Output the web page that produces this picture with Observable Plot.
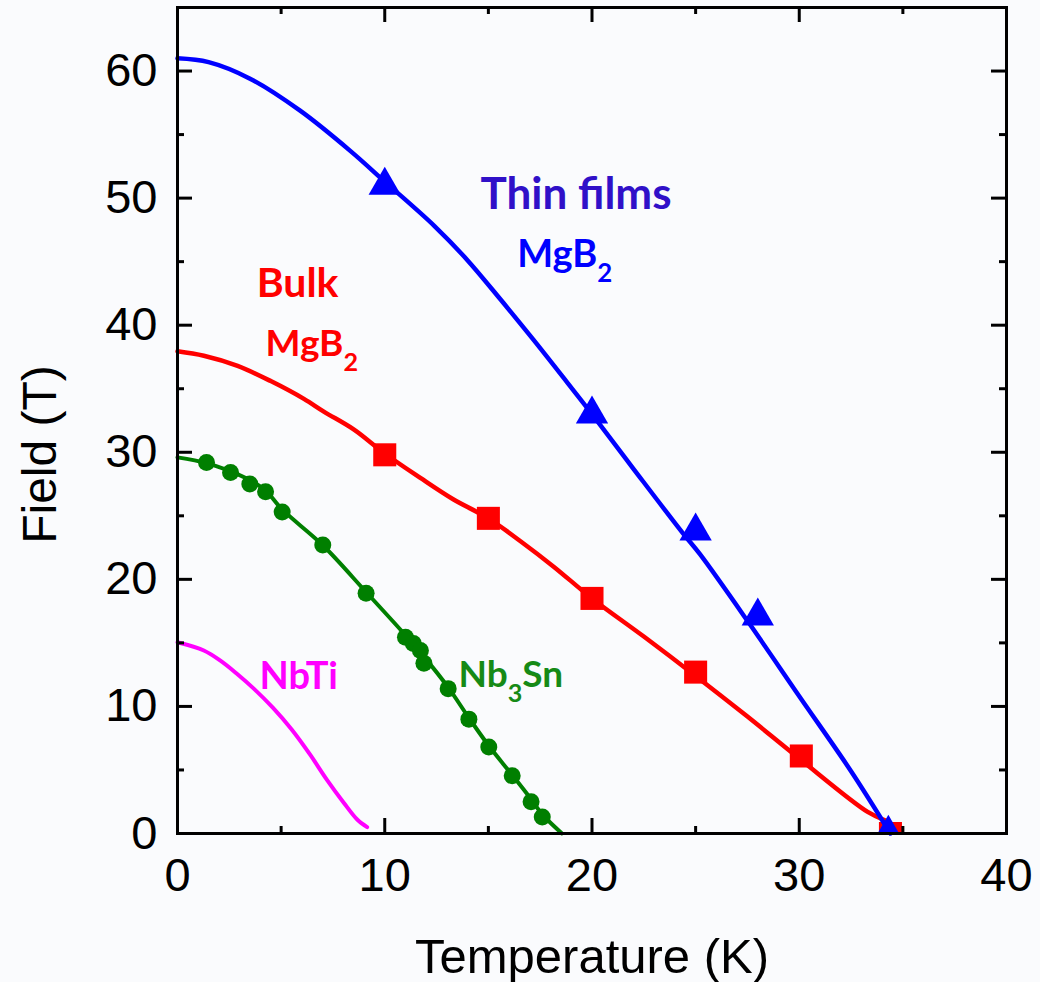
<!DOCTYPE html>
<html>
<head>
<meta charset="utf-8">
<script src="https://cdn.jsdelivr.net/npm/d3@7"></script>
<script src="https://cdn.jsdelivr.net/npm/@observablehq/plot@0.6"></script>
<style>
  html, body { margin: 0; padding: 0; background: #fafbfd; }
  svg { display: block; }
</style>
</head>
<body>
<div id="chart"></div>
<script>
// ---------- data (temperature K, field T) ----------
const nbtiT = [0, 1.27, 2.07, 2.88, 3.68, 4.6, 5.5, 6.4, 7.22, 8.03, 8.67, 9.15];
const nbtiF = [15.05, 14.4, 13.6, 12.55, 11.4, 9.9, 8.2, 6.2, 4.2, 2.4, 1.1, 0.5];

const nb3snLineT = [0, 1.4, 2.56, 3.5, 4.25, 5.05, 7.0, 9.1, 11.0, 11.9, 13.06, 14.06, 15.02, 16.15, 17.06, 17.6, 18.55];
const nb3snLineF = [29.6, 29.15, 28.5, 27.8, 27.0, 25.5, 22.7, 19.0, 15.6, 13.9, 11.5, 9.1, 6.9, 4.6, 2.7, 1.5, 0];
const nb3snPtsT = [1.4, 2.56, 3.49, 4.25, 5.05, 7.01, 9.1, 11.0, 11.38, 11.72, 11.89, 13.06, 14.06, 15.02, 16.15, 17.06, 17.6];
const nb3snPtsF = [29.2, 28.4, 27.5, 26.9, 25.3, 22.7, 18.9, 15.45, 14.95, 14.4, 13.4, 11.4, 9.0, 6.8, 4.55, 2.5, 1.3];

const bulkLineT = [0, 1.27, 2.9, 4.5, 6.1, 7.06, 8.5, 10, 11.7, 13.3, 15, 16.55, 18.15, 20, 22.5, 25, 27.5, 30, 33.3, 34.2];
const bulkLineF = [37.95, 37.6, 36.8, 35.6, 34.2, 33.2, 31.8, 29.9, 28.0, 26.3, 24.8, 23.0, 21.0, 18.5, 15.5, 12.4, 9.2, 5.9, 1.7, 1.0];
const bulkPtsT = [10, 15, 20, 25, 30.1, 34.4];
const bulkPtsF = [29.8, 24.8, 18.5, 12.7, 6.1, 0];

const filmLineT = [0, 1.5, 3.5, 5.9, 8.35, 10, 12.4, 14, 15.6, 17.2, 18.8, 20, 22, 24.4, 25.2, 27.6, 30, 32.5, 34.4];
const filmLineF = [61.0, 60.7, 59.4, 56.9, 53.7, 51.3, 47.8, 45.1, 42.0, 38.8, 35.5, 33.0, 28.7, 23.6, 22.0, 16.5, 10.8, 4.9, 0];
const filmPtsT = [10, 20, 25, 28, 34.3];
const filmPtsF = [51.0, 33.0, 23.8, 17.1, 0];

const xMajor = [0, 10, 20, 30, 40];
const xMinor = [5, 15, 25, 35];
const yMajor = [0, 10, 20, 30, 40, 50, 60];
const yMinor = [5, 15, 25, 35, 45, 55];

const xTitle = "Temperature (K)";
const yTitle = "Field (T)";

// annotation texts and their anchor (T, F) in data units
const noteText = ["Thin films", "MgB_2", "Bulk", "MgB_2", "NbTi", "Nb_3Sn"];
const noteT = [14.62, 16.39, 3.82, 4.25, 3.96, 13.56];
const noteF = [49.18, 44.56, 42.2, 37.6, 11.4, 11.5];

// ---------- build tables ----------
const rows = (T, F) => T.map((t, i) => ({t, f: F[i]}));
const nbti = rows(nbtiT, nbtiF);
const nb3snLine = rows(nb3snLineT, nb3snLineF);
const nb3snPts = rows(nb3snPtsT, nb3snPtsF);
const bulkLine = rows(bulkLineT, bulkLineF);
const bulkPts = rows(bulkPtsT, bulkPtsF);
const filmLine = rows(filmLineT, filmLineF);
const filmPts = rows(filmPtsT, filmPtsF);
const notes = noteText.map((text, i) => ({text, t: noteT[i], f: noteF[i]}));

// ---------- layout ----------
const W = 1040, H = 982;
const mL = 177, mR = 34, mT = 7, mB = 149;
const fw = W - mL - mR, fh = H - mT - mB;
const major = 15, minor = 7;
const tickStyle = {stroke: "black", strokeWidth: 3};
const noteFont = "Lato, 'Open Sans', sans-serif";

const note = (i, color, size) => Plot.text([notes[i]], {
  x: "t", y: "f", text: "text", fill: color, fontSize: size, fontWeight: 700,
  fontFamily: noteFont, textAnchor: "start", lineAnchor: "bottom"
});

const chart = Plot.plot({
  width: W, height: H,
  marginLeft: mL, marginRight: mR, marginTop: mT, marginBottom: mB,
  style: {background: "#fafbfd", fontFamily: "'Liberation Sans', Arial, sans-serif", color: "black", overflow: "visible"},
  x: {domain: [0, 40], label: null},
  y: {domain: [0, 65], label: null},
  marks: [
    Plot.line(nbti, {x: "t", y: "f", stroke: "#ff00ff", strokeWidth: 4, curve: "catmull-rom"}),
    Plot.line(nb3snLine, {x: "t", y: "f", stroke: "#007f00", strokeWidth: 4, curve: "catmull-rom"}),
    Plot.dot(nb3snPts, {x: "t", y: "f", r: 8.5, fill: "#007f00", stroke: "none"}),
    Plot.line(bulkLine, {x: "t", y: "f", stroke: "#ff0000", strokeWidth: 4.5, curve: "catmull-rom"}),
    Plot.dot(bulkPts, {x: "t", y: "f", symbol: "square", r: 13, fill: "#ff0000", stroke: "none", clip: true}),
    Plot.line(filmLine, {x: "t", y: "f", stroke: "#0000ff", strokeWidth: 4.5, curve: "catmull-rom"}),
    Plot.dot(filmPts, {x: "t", y: "f", symbol: "triangle", r: 12, fill: "#0000ff", stroke: "none", clip: true}),
    Plot.frame({stroke: "black", strokeWidth: 3}),
    Plot.tickX(xMajor, {x: d => d, insetTop: fh - major, ...tickStyle}),
    Plot.tickX(xMajor, {x: d => d, insetBottom: fh - major, ...tickStyle}),
    Plot.tickX(xMinor, {x: d => d, insetTop: fh - minor, ...tickStyle}),
    Plot.tickX(xMinor, {x: d => d, insetBottom: fh - minor, ...tickStyle}),
    Plot.tickY(yMajor, {y: d => d, insetRight: fw - major, ...tickStyle}),
    Plot.tickY(yMajor, {y: d => d, insetLeft: fw - major, ...tickStyle}),
    Plot.tickY(yMinor, {y: d => d, insetRight: fw - minor, ...tickStyle}),
    Plot.tickY(yMinor, {y: d => d, insetLeft: fw - minor, ...tickStyle}),
    Plot.axisX(xMajor, {tickSize: 0, tickPadding: 24, fontSize: 47, label: null}),
    Plot.axisY(yMajor, {tickSize: 0, tickPadding: 20, fontSize: 47, label: null}),
    Plot.text([xTitle], {frameAnchor: "bottom", dy: 139, lineAnchor: "bottom", textAnchor: "middle", fontSize: 49}),
    Plot.text([yTitle], {frameAnchor: "left", rotate: -90, dx: -122, dy: 34, lineAnchor: "bottom", textAnchor: "middle", fontSize: 48}),
    note(0, "#3010c8", 44),
    note(1, "#0000ff", 38),
    note(2, "#ff0000", 41),
    note(3, "#ff0000", 37),
    note(4, "#ff00ff", 38),
    note(5, "#168a16", 37)
  ]
});

// subscripts: "MgB_2" -> MgB with lowered, smaller 2
const ns = "http://www.w3.org/2000/svg";
chart.querySelectorAll("text").forEach(el => {
  const s = el.textContent;
  const m = s.match(/^(.*?)_(\d)(.*)$/);
  if (!m) return;
  el.textContent = "";
  const a = document.createElementNS(ns, "tspan");
  a.textContent = m[1];
  const b = document.createElementNS(ns, "tspan");
  b.textContent = m[2];
  b.setAttribute("font-size", "0.68em");
  b.setAttribute("dy", "15");
  el.append(a, b);
  if (m[3]) {
    const c = document.createElementNS(ns, "tspan");
    c.textContent = m[3];
    c.setAttribute("dy", "-15");
    el.append(c);
  }
});

document.getElementById("chart").append(chart);
</script>
</body>
</html>
